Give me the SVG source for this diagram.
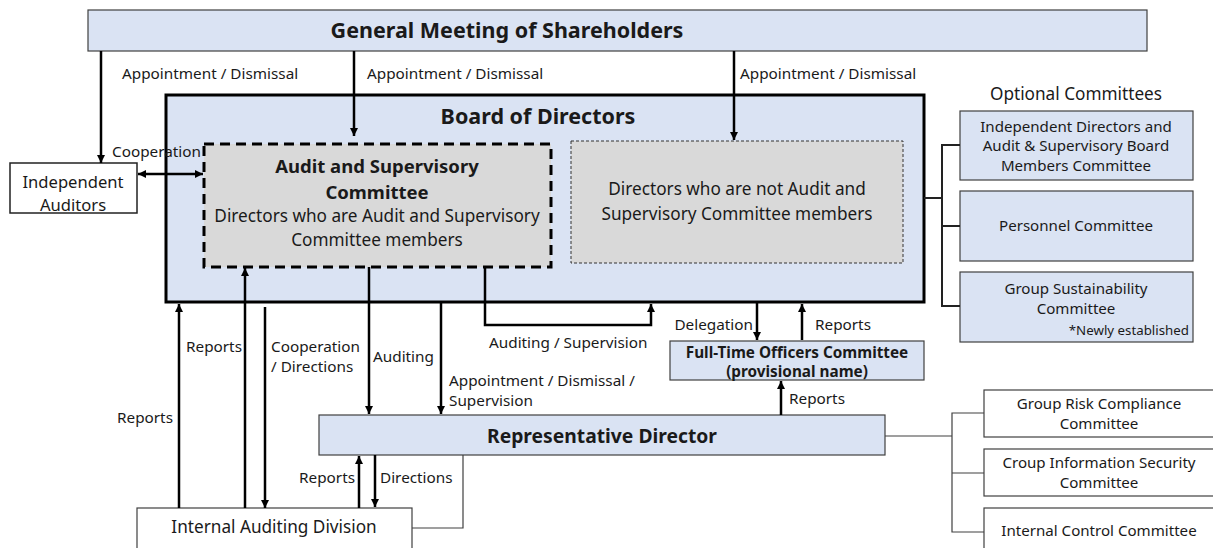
<svg xmlns="http://www.w3.org/2000/svg" width="1213" height="548" viewBox="0 0 1213 548">
  <style>
    text { font-family: "Noto Sans", "Open Sans", sans-serif; fill: #1a1a1a; }
    .t { font-size: 15.3px; }
    .m { font-size: 17.2px; }
    .o { font-size: 15.1px; }
    .b { font-weight: bold; }
    .c { text-anchor: middle; }
    .e { text-anchor: end; }
    .blue { fill: #dae3f3; stroke: #404040; stroke-width: 1.2; }
    .white { fill: #ffffff; stroke: #404040; stroke-width: 1.2; }
    .arr { stroke: #000; stroke-width: 2.5; fill: none; }
    .thin { stroke: #404040; stroke-width: 1.2; fill: none; }
    .brk { stroke: #222; stroke-width: 2; fill: none; }
  </style>
  <defs>
    <marker id="ah" viewBox="0 0 10 10" refX="10" refY="5" markerWidth="8" markerHeight="8" markerUnits="userSpaceOnUse" orient="auto-start-reverse">
      <path d="M0,0 L10,5 L0,10 z" fill="#000"/>
    </marker>
  </defs>

  <g id="shareholders">
    <rect class="blue" x="88" y="10" width="1059" height="41"/>
    <text class="b c" x="507" y="38" font-size="21.5">General Meeting of Shareholders</text>
  </g>

  <g id="board">
    <rect x="166" y="95" width="758" height="207" fill="#dae3f3" stroke="#000" stroke-width="3"/>
    <text class="b c" x="538" y="124" font-size="21.5">Board of Directors</text>
  </g>

  <g id="audit-committee">
    <rect x="204" y="144" width="347" height="123" fill="#d9d9d9" stroke="#000" stroke-width="3" stroke-dasharray="10,6"/>
    <text class="b c" x="377" y="173" font-size="18.5">Audit and Supervisory</text>
    <text class="b c" x="377" y="198.5" font-size="18.5">Committee</text>
    <text class="m c" x="377" y="222">Directors who are Audit and Supervisory</text>
    <text class="m c" x="377" y="246">Committee members</text>
  </g>

  <g id="other-directors">
    <rect x="571" y="141" width="332" height="122" fill="#d9d9d9" stroke="#333" stroke-width="1" stroke-dasharray="3,2"/>
    <text class="m c" x="737" y="195">Directors who are not Audit and</text>
    <text class="m c" x="737" y="220">Supervisory Committee members</text>
  </g>

  <g id="independent-auditors">
    <rect x="10" y="163" width="127" height="50" fill="#fff" stroke="#222" stroke-width="1.5"/>
    <text class="c" x="73" y="188" font-size="16.6">Independent</text>
    <text class="c" x="73" y="211" font-size="16.6">Auditors</text>
  </g>

  <g id="optional-committees">
    <text class="m c" x="1076" y="100">Optional Committees</text>
    <rect class="blue" x="960" y="111" width="233" height="69"/>
    <text class="o c" x="1076" y="132">Independent Directors and</text>
    <text class="o c" x="1076" y="151">Audit &amp; Supervisory Board</text>
    <text class="o c" x="1076" y="171">Members Committee</text>
    <rect class="blue" x="960" y="191" width="233" height="70"/>
    <text class="o c" x="1076" y="231">Personnel Committee</text>
    <rect class="blue" x="960" y="272" width="233" height="70"/>
    <text class="o c" x="1076" y="294">Group Sustainability</text>
    <text class="o c" x="1076" y="314">Committee</text>
    <text class="e" x="1189" y="335" font-size="13.3">*Newly established</text>
  </g>

  <g id="full-time-officers">
    <rect class="blue" x="670" y="341" width="254" height="39"/>
    <text class="b c" x="797" y="358" font-size="15.3">Full-Time Officers Committee</text>
    <text class="b c" x="797" y="377" font-size="15.3">(provisional name)</text>
  </g>

  <g id="representative-director">
    <rect class="blue" x="319" y="415" width="566" height="40"/>
    <text class="b c" x="602" y="443" font-size="19.3">Representative Director</text>
  </g>

  <g id="internal-auditing">
    <rect class="white" x="137" y="508" width="275" height="45"/>
    <text class="m c" x="274" y="533">Internal Auditing Division</text>
  </g>

  <g id="executive-committees">
    <rect class="white" x="984" y="390" width="235" height="47"/>
    <text class="o c" x="1099" y="409">Group Risk Compliance</text>
    <text class="o c" x="1099" y="429">Committee</text>
    <rect class="white" x="984" y="449" width="235" height="47"/>
    <text class="o c" x="1099" y="468">Croup Information Security</text>
    <text class="o c" x="1099" y="488">Committee</text>
    <rect class="white" x="984" y="508" width="235" height="45"/>
    <text class="o c" x="1099" y="536">Internal Control Committee</text>
  </g>

  <g id="connectors">
    <!-- shareholders appointments -->
    <line class="arr" x1="101" y1="51" x2="101" y2="163" marker-end="url(#ah)"/>
    <line class="arr" x1="354" y1="51" x2="354" y2="136" marker-end="url(#ah)"/>
    <line class="arr" x1="734" y1="51" x2="734" y2="140" marker-end="url(#ah)"/>
    <text class="t" x="122" y="79">Appointment / Dismissal</text>
    <text class="t" x="367" y="79">Appointment / Dismissal</text>
    <text class="t" x="740" y="79">Appointment / Dismissal</text>

    <!-- cooperation with auditors -->
    <line class="arr" x1="138" y1="174" x2="203" y2="174" marker-start="url(#ah)" marker-end="url(#ah)"/>
    <text class="t" x="112" y="157">Cooperation</text>

    <!-- optional committees bracket -->
    <path class="brk" d="M924,198 H942 M960,145 H942 V306 H960 M942,226 H960"/>

    <!-- internal auditing links -->
    <line class="arr" x1="179" y1="508" x2="179" y2="304" marker-end="url(#ah)"/>
    <text class="t" x="117" y="423">Reports</text>
    <line class="arr" x1="245" y1="508" x2="245" y2="268" marker-end="url(#ah)"/>
    <text class="t" x="186" y="352">Reports</text>
    <line class="arr" x1="265" y1="307" x2="265" y2="508" marker-end="url(#ah)"/>
    <text class="t" x="271" y="352">Cooperation</text>
    <text class="t" x="271" y="372">/ Directions</text>

    <!-- auditing of representative director -->
    <line class="arr" x1="369" y1="267" x2="369" y2="414" marker-end="url(#ah)"/>
    <text class="t" x="373" y="362">Auditing</text>
    <line class="arr" x1="441" y1="303" x2="441" y2="414" marker-end="url(#ah)"/>
    <text class="t" x="449" y="386">Appointment / Dismissal /</text>
    <text class="t" x="449" y="406">Supervision</text>

    <!-- auditing / supervision loop -->
    <path class="arr" d="M485,267 V325 H651 V304" marker-end="url(#ah)"/>
    <text class="t" x="489" y="348">Auditing / Supervision</text>

    <!-- full-time officers committee -->
    <line class="arr" x1="757" y1="303" x2="757" y2="340" marker-end="url(#ah)"/>
    <text class="t e" x="753" y="330">Delegation</text>
    <line class="arr" x1="802" y1="340" x2="802" y2="304" marker-end="url(#ah)"/>
    <text class="t" x="815" y="330">Reports</text>
    <line class="arr" x1="781" y1="415" x2="781" y2="381" marker-end="url(#ah)"/>
    <text class="t" x="789" y="404">Reports</text>

    <!-- representative director and internal auditing -->
    <line class="arr" x1="359" y1="508" x2="359" y2="456" marker-end="url(#ah)"/>
    <text class="t e" x="355" y="483">Reports</text>
    <line class="arr" x1="375" y1="455" x2="375" y2="507" marker-end="url(#ah)"/>
    <text class="t" x="380" y="483">Directions</text>
    <path class="thin" d="M463,455 V528 H412"/>

    <!-- executive committees bracket -->
    <path class="thin" d="M885,436 H952 M984,413 H952 V532 H984 M952,473 H984"/>
  </g>
</svg>
